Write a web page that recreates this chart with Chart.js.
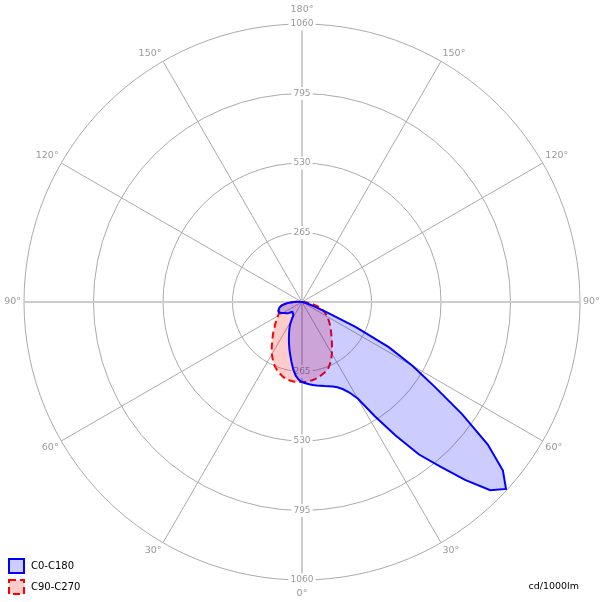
<!DOCTYPE html>
<html>
<head>
<meta charset="utf-8">
<script src="https://cdn.jsdelivr.net/npm/chart.js@4"></script>
<style>
  html, body { margin: 0; padding: 0; background: #fff; }
  #wrap { width: 605px; height: 602px; }
</style>
</head>
<body>
<div id="wrap"><canvas id="polar"></canvas></div>
<script>
// gamma angles 0..180, step 2.5 deg
const STEP = 2.5;
const angleMarks = [0, 30, 60, 90, 120, 150, 180];
const rTicks = [0, 265, 530, 795, 1060];
const unitText = 'cd/1000lm';

// C0 half (drawn on the right side)
const c0 = [
  305, 310, 315, 319, 323, 327, 332, 337, 343, 352, 366, 388, 425, 515, 620, 733,
  818, 920, 1015, 1055, 1000, 893, 745, 597, 486, 373, 225, 105, 52, 28, 15, 8,
  4, 2, 1, 0, 0, 0, 0, 0, 0, 0, 0, 0, 0, 0, 0, 0,
  0, 0, 0, 0, 0, 0, 0, 0, 0, 0, 0, 0, 0, 0, 0, 0,
  0, 0, 0, 0, 0, 0, 0, 0, 0
];
// C180 half (left side)
const c180 = [
  305, 296, 281, 258, 232, 207, 186, 165, 146, 129, 114, 100, 80, 64, 58, 56,
  55, 53, 53, 58, 65, 70, 74, 78, 84, 90, 95, 97, 96, 93, 90, 86,
  79, 69, 58, 45, 32, 18, 8, 3, 0, 0, 0, 0, 0, 0, 0, 0,
  0, 0, 0, 0, 0, 0, 0, 0, 0, 0, 0, 0, 0, 0, 0, 0,
  0, 0, 0, 0, 0, 0, 0, 0, 0
];
// C90 half (right side)
const c90 = [
  305, 305, 303, 301, 298, 294, 288, 283, 278, 268, 256, 242, 228, 213, 199, 187,
  175, 165, 156, 148, 140, 132, 125, 118, 111, 104, 97, 89, 80, 70, 58, 46,
  35, 25, 15, 8, 4, 1, 0, 0, 0, 0, 0, 0, 0, 0, 0, 0,
  0, 0, 0, 0, 0, 0, 0, 0, 0, 0, 0, 0, 0, 0, 0, 0,
  0, 0, 0, 0, 0, 0, 0, 0, 0
];
// C270 half (left side)
const c270 = [
  305, 305, 305, 304, 302, 298, 292, 285, 277, 268, 256, 243, 230, 215, 200, 186,
  174, 163, 152, 142, 134, 126, 119, 112, 106, 101, 97, 94, 92, 90, 88, 85,
  80, 71, 60, 45, 30, 18, 10, 4, 0, 0, 0, 0, 0, 0, 0, 0,
  0, 0, 0, 0, 0, 0, 0, 0, 0, 0, 0, 0, 0, 0, 0, 0,
  0, 0, 0, 0, 0, 0, 0, 0, 0
];

const FONT = '"DejaVu Sans", Verdana, sans-serif';
const N = 360 / STEP;

// radar goes clockwise from the top: right side is gamma 180 -> 0, left side 0 -> 180
function gammaAt(i) {
  const th = i * STEP;
  return th <= 180 ? 180 - th : th - 180;
}
function join(right, left) {
  const out = [];
  for (let i = 0; i < N; i++) {
    const g = gammaAt(i);
    out.push(i * STEP <= 180 ? right[g / STEP] : left[g / STEP]);
  }
  return out;
}

const labels = [];
for (let i = 0; i < N; i++) labels.push(gammaAt(i) + '°');

const extraText = {
  id: 'extraText',
  beforeDatasetsDraw(chart) {
    const s = chart.scales.r;
    const ctx = chart.ctx;
    ctx.save();

    // tick labels repeated on the lower half of the vertical axis
    ctx.font = '9px ' + FONT;
    ctx.textAlign = 'center';
    ctx.textBaseline = 'middle';
    rTicks.forEach(v => {
      if (!v) return;
      const y = s.yCenter + s.getDistanceFromCenterForValue(v);
      const w = ctx.measureText(String(v)).width;
      ctx.fillStyle = '#fff';
      ctx.fillRect(s.xCenter - w / 2 - 2, y - 6.5, w + 4, 13);
      ctx.fillStyle = '#999';
      ctx.fillText(String(v), s.xCenter, y);
    });

    // angle labels every 30 degrees
    ctx.font = '9.5px ' + FONT;
    ctx.fillStyle = '#999';
    const h = 11;
    for (let i = 0; i < N; i++) {
      const g = gammaAt(i);
      if (!angleMarks.includes(g)) continue;
      const th = i * STEP;
      const top = th === 0 || th === 180;
      const p = s.getPointPosition(i, s.drawingArea + (top ? 8.5 : 3));
      let y = p.y;
      if (th !== 90 && th !== 270) y += (th < 90 || th > 270) ? -h / 2 : h / 2;
      ctx.textAlign = top ? 'center' : (th < 180 ? 'left' : 'right');
      ctx.fillText(g + '°', p.x, y);
    }
    ctx.restore();
  },
  afterDraw(chart) {
    const ctx = chart.ctx;
    ctx.save();
    // legend boxes, styled from the datasets
    ctx.font = '10px ' + FONT;
    ctx.textBaseline = 'middle';
    ctx.textAlign = 'left';
    chart.data.datasets.forEach((ds, k) => {
      const y = 559 + k * 21;
      ctx.fillStyle = ds.backgroundColor;
      ctx.fillRect(9, y, 15, 14);
      ctx.strokeStyle = ds.borderColor;
      ctx.lineWidth = ds.borderWidth;
      ctx.setLineDash(ds.borderDash || []);
      ctx.strokeRect(9, y, 15, 14);
      ctx.setLineDash([]);
      ctx.fillStyle = '#000';
      ctx.fillText(ds.label, 31, y + 7);
    });
    ctx.font = '9.5px ' + FONT;
    ctx.textAlign = 'right';
    ctx.fillText(unitText, 579, 587);
    ctx.restore();
  }
};

new Chart(document.getElementById('polar'), {
  type: 'radar',
  data: {
    labels: labels,
    datasets: [
      {
        label: 'C0-C180',
        data: join(c0, c180),
        borderColor: '#0000ff',
        backgroundColor: 'rgba(0, 0, 255, 0.2)',
        borderWidth: 2,
        fill: true,
        pointRadius: 0,
        tension: 0
      },
      {
        label: 'C90-C270',
        data: join(c90, c270),
        borderColor: '#ff0000',
        backgroundColor: 'rgba(255, 0, 0, 0.2)',
        borderWidth: 2,
        borderDash: [7, 4],
        fill: true,
        pointRadius: 0,
        tension: 0
      }
    ]
  },
  options: {
    responsive: true,
    maintainAspectRatio: false,
    animation: false,
    events: [],
    layout: { padding: { top: 17, bottom: 15, left: 0, right: 0 } },
    scales: {
      r: {
        min: 0,
        max: 1060,
        startAngle: 0,
        afterBuildTicks: s => { s.ticks = rTicks.map(v => ({ value: v })); },
        ticks: {
          color: '#999',
          font: { family: FONT, size: 9 },
          backdropColor: '#fff',
          backdropPadding: { x: 2, y: 2 },
          callback: v => String(v)
        },
        grid: { circular: true, color: '#aaa', lineWidth: 1 },
        angleLines: {
          color: ctx => (ctx.index % 36 === 0 ? '#cccccc' : '#aaaaaa'),
          lineWidth: ctx => (ctx.index % 36 === 0 ? 2 : (ctx.index % 12 === 0 ? 1 : 0))
        },
        pointLabels: { display: false }
      }
    },
    plugins: {
      tooltip: { enabled: false },
      legend: { display: false }
    }
  },
  plugins: [extraText]
});
</script>
</body>
</html>
